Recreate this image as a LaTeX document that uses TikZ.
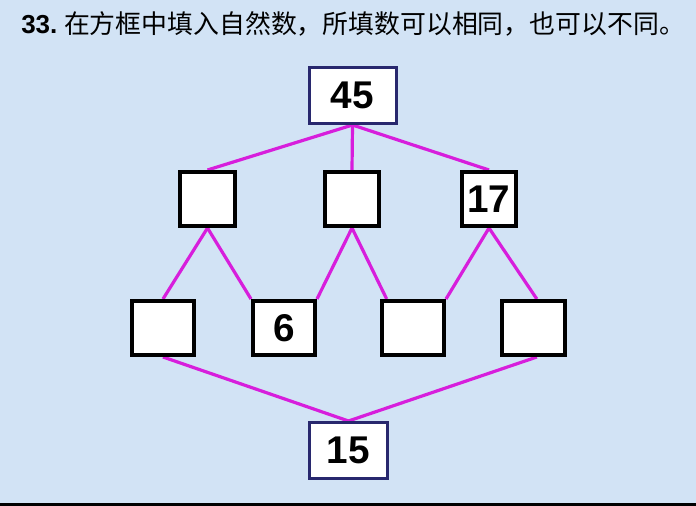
\documentclass[tikz,border=0pt]{standalone}
\usepackage{fontspec}
\setmainfont{Liberation Sans}
\newfontfamily\cjk{Noto Sans CJK SC}
\usetikzlibrary{calc}
\definecolor{bgblue}{RGB}{210,227,245}
\definecolor{navyb}{RGB}{40,40,110}
\definecolor{mag}{RGB}{215,30,220}
\pgfdeclarelayer{bg}
\pgfdeclarelayer{lines}
\pgfsetlayers{bg,lines,main}
\begin{document}
\begin{tikzpicture}[x=0.75pt,y=-0.75pt,
  numfont/.style={font=\fontsize{29pt}{30pt}\selectfont\bfseries},
  endbox/.style={draw=navyb,line width=2.25pt,fill=white,inner sep=0pt,numfont},
  cellbox/.style={draw=black,line width=3pt,fill=white,inner sep=0pt,numfont},
  link/.style={draw=mag,line width=2.4pt}]
\useasboundingbox (0,0) rectangle (696,506);
\begin{pgfonlayer}{bg}
\fill[bgblue] (0,0) rectangle (696,506);
\fill[black] (0,503) rectangle (696,506);
\end{pgfonlayer}
\node[anchor=base west,inner sep=0pt] (title) at (21,34)
  {\fontsize{19.5pt}{22pt}\selectfont\bfseries 33.\hspace{5pt}\cjk\mdseries\fontsize{19.4pt}{22pt}\selectfont 在方框中填入自然数，所填数可以相同，也可以不同。};
\node[endbox,minimum width=87*0.75pt,minimum height=56*0.75pt] (top) at (352.5,95.5) {45};
\node[cellbox,minimum width=55*0.75pt,minimum height=54*0.75pt] (m1) at (207.5,199) {};
\node[cellbox,minimum width=54*0.75pt,minimum height=54*0.75pt] (m2) at (352,199) {};
\node[cellbox,minimum width=54*0.75pt,minimum height=54*0.75pt] (m3) at (489,199) {17};
\node[cellbox,minimum width=62*0.75pt,minimum height=54*0.75pt] (b1) at (163,328) {};
\node[cellbox,minimum width=62*0.75pt,minimum height=54*0.75pt] (b2) at (284,328) {6};
\node[cellbox,minimum width=62*0.75pt,minimum height=54*0.75pt] (b3) at (413,328) {};
\node[cellbox,minimum width=63*0.75pt,minimum height=54*0.75pt] (b4) at (533.5,328) {};
\node[endbox,minimum width=78*0.75pt,minimum height=56*0.75pt] (bot) at (348.5,450.5) {15};
\begin{pgfonlayer}{lines}
\draw[link] (top.south) -- (m1.north);
\draw[link] (top.south) -- (m2.north);
\draw[link] (top.south) -- (m3.north);
\draw[link] (m1.south) -- (b1.north);
\draw[link] (m1.south) -- (b2.north west);
\draw[link] (m2.south) -- (b2.north east);
\draw[link] (m2.south) -- ([xshift=5pt]b3.north west);
\draw[link] (m3.south) -- (b3.north east);
\draw[link] (m3.south) -- ([xshift=2.5pt]b4.north);
\draw[link] (b1.south) -- (bot.north);
\draw[link] ([xshift=2.5pt]b4.south) -- (bot.north);
\end{pgfonlayer}
\end{tikzpicture}
\end{document}
